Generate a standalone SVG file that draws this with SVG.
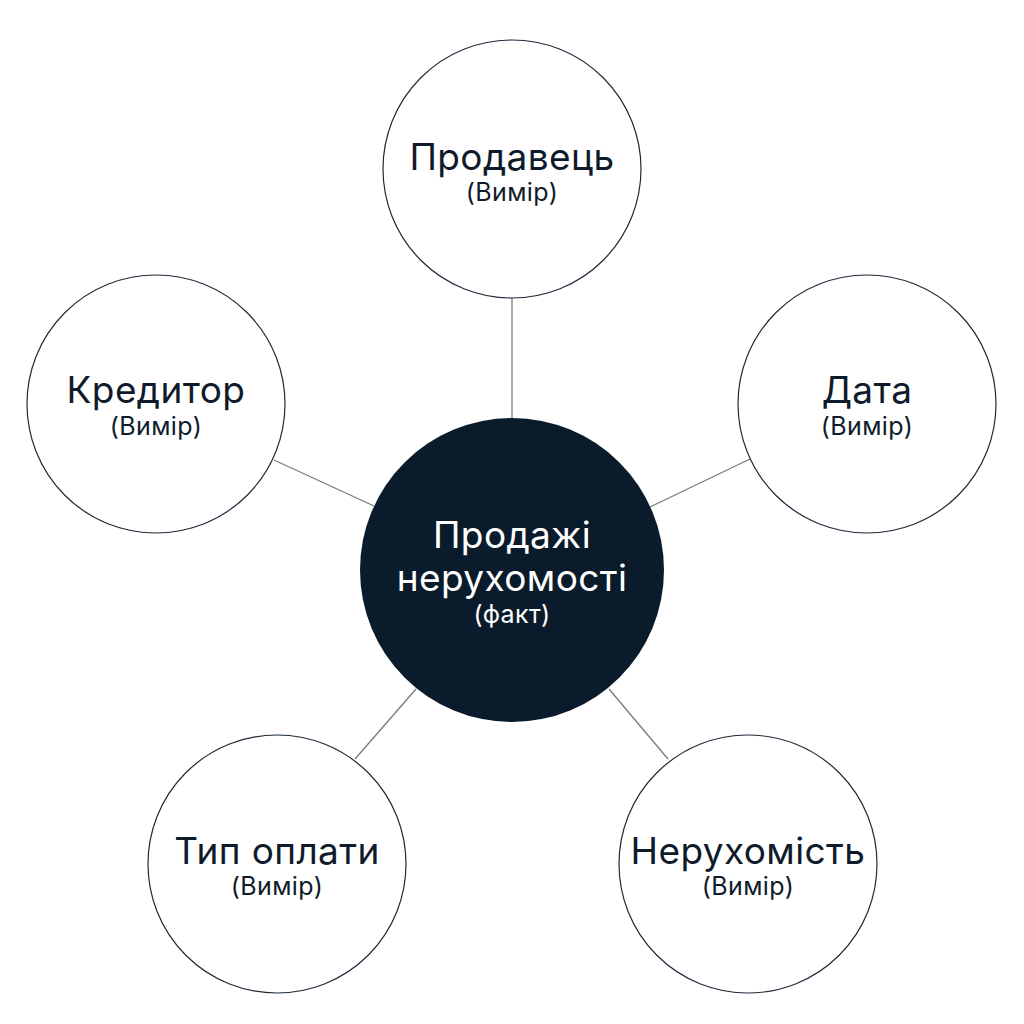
<svg xmlns="http://www.w3.org/2000/svg" width="1024" height="1024" viewBox="0 0 1024 1024">
<style>
.dim{fill:#ffffff;stroke:#1e2b3a;stroke-width:1.2}
.fact{fill:#0a1b2c;stroke:none}
.conn{stroke:#7a7a7a;stroke-width:1.3;fill:none}
.t{font-family:Inter,"Noto Sans","DejaVu Sans",sans-serif;text-anchor:middle;fill:#0f1b2b}
.big{font-size:37px;letter-spacing:0.4px}
.small{font-size:25px;letter-spacing:0.4px}
.w{fill:#ffffff}
</style>
<rect width="1024" height="1024" fill="#ffffff"/>
<g id="connectors">
<line class="conn" x1="512" y1="298" x2="512" y2="419"/>
<line class="conn" x1="274" y1="460" x2="374" y2="506"/>
<line class="conn" x1="750" y1="459" x2="650" y2="507"/>
<line class="conn" x1="355" y1="759" x2="416" y2="689"/>
<line class="conn" x1="609" y1="689" x2="668" y2="759"/>
</g>
<g id="node-seller">
<circle class="dim" cx="512" cy="169" r="129"/>
<text class="t big" x="512" y="170">Продавець</text>
<text class="t small" x="512" y="201">(Вимір)</text>
</g>
<g id="node-creditor">
<circle class="dim" cx="156" cy="404" r="129"/>
<text class="t big" x="156" y="403">Кредитор</text>
<text class="t small" x="156" y="435">(Вимір)</text>
</g>
<g id="node-date">
<circle class="dim" cx="867" cy="404" r="129"/>
<text class="t big" x="867" y="403">Дата</text>
<text class="t small" x="867" y="435">(Вимір)</text>
</g>
<g id="node-payment">
<circle class="dim" cx="277" cy="864" r="129"/>
<text class="t big" x="277" y="864">Тип оплати</text>
<text class="t small" x="277" y="895">(Вимір)</text>
</g>
<g id="node-property">
<circle class="dim" cx="748" cy="864" r="129"/>
<text class="t big" x="748" y="864">Нерухомість</text>
<text class="t small" x="748" y="895">(Вимір)</text>
</g>
<g id="node-fact">
<circle class="fact" cx="512" cy="570" r="152"/>
<text class="t big w" x="512" y="548">Продажі</text>
<text class="t big w" x="512" y="591">нерухомості</text>
<text class="t small w" x="512" y="623">(факт)</text>
</g>
</svg>
